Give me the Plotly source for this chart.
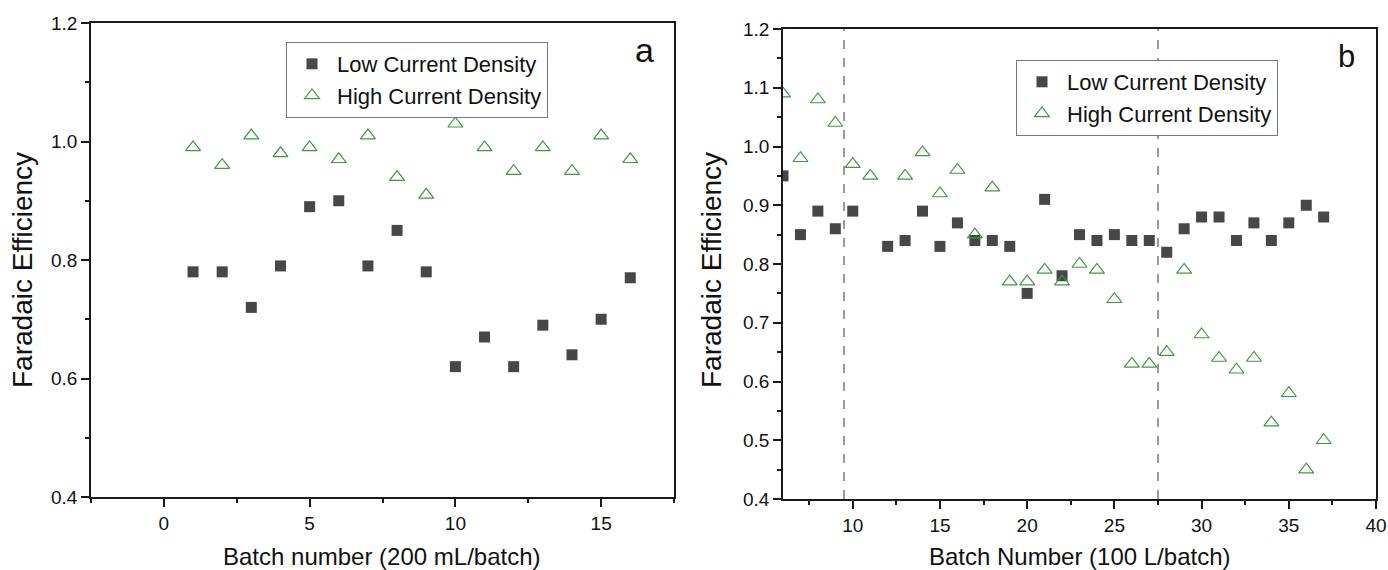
import plotly.graph_objects as go

# ---- Panel a data (200 mL/batch) ----
a_batch = list(range(1, 17))
a_low = [0.78, 0.78, 0.72, 0.79, 0.89, 0.90, 0.79, 0.85, 0.78, 0.62, 0.67, 0.62, 0.69, 0.64, 0.70, 0.77]
a_high = [0.99, 0.96, 1.01, 0.98, 0.99, 0.97, 1.01, 0.94, 0.91, 1.03, 0.99, 0.95, 0.99, 0.95, 1.01, 0.97]

# ---- Panel b data (100 L/batch) ----
b_low_batch = [6, 7, 8, 9, 10, 12, 13, 14, 15, 16, 17, 18, 19, 20, 21, 22, 23, 24, 25, 26, 27,
               28, 29, 30, 31, 32, 33, 34, 35, 36, 37]
b_low = [0.95, 0.85, 0.89, 0.86, 0.89, 0.83, 0.84, 0.89, 0.83, 0.87, 0.84, 0.84, 0.83, 0.75, 0.91,
         0.78, 0.85, 0.84, 0.85, 0.84, 0.84, 0.82, 0.86, 0.88, 0.88, 0.84, 0.87, 0.84, 0.87, 0.90, 0.88]
b_high_batch = [6, 7, 8, 9, 10, 11, 13, 14, 15, 16, 17, 18, 19, 20, 21, 22, 23, 24, 25, 26, 27,
                28, 29, 30, 31, 32, 33, 34, 35, 36, 37]
b_high = [1.09, 0.98, 1.08, 1.04, 0.97, 0.95, 0.95, 0.99, 0.92, 0.96, 0.85, 0.93, 0.77, 0.77, 0.79,
          0.77, 0.80, 0.79, 0.74, 0.63, 0.63, 0.65, 0.79, 0.68, 0.64, 0.62, 0.64, 0.53, 0.58, 0.45, 0.50]
b_dividers = [9.5, 27.5]

series_names = ["Low Current Density", "High Current Density"]

FONT = "Liberation Sans, Arial, sans-serif"
SQ_COLOR = "#474747"
TRI_COLOR = "#3d9a3d"
AX_COLOR = "#1a1a1a"
W, H = 1388, 570

fig = go.Figure()

def sq_trace(x, y, xa, ya, leg):
    return go.Scatter(x=x, y=y, mode="markers", name=series_names[0], xaxis=xa, yaxis=ya,
                      legend=leg,
                      marker=dict(symbol="square", size=11, color=SQ_COLOR, line=dict(width=0)))

def tri_trace(x, y, xa, ya, leg):
    return go.Scatter(x=x, y=y, mode="markers", name=series_names[1], xaxis=xa, yaxis=ya,
                      legend=leg,
                      marker=dict(symbol="triangle-up-open", size=13, color=TRI_COLOR,
                                  line=dict(width=1.2, color=TRI_COLOR)))

fig.add_trace(sq_trace(a_batch, a_low, "x", "y", "legend"))
fig.add_trace(tri_trace(a_batch, a_high, "x", "y", "legend"))
fig.add_trace(sq_trace(b_low_batch, b_low, "x2", "y2", "legend2"))
fig.add_trace(tri_trace(b_high_batch, b_high, "x2", "y2", "legend2"))

for xv in b_dividers:
    fig.add_shape(type="line", xref="x2", yref="y2 domain", x0=xv, x1=xv, y0=0, y1=1,
                  line=dict(color="#7a7a7a", width=1.5, dash="dash"))

axis_common = dict(showline=True, linecolor=AX_COLOR, linewidth=1.5, mirror=True,
                   ticks="outside", ticklen=8, tickwidth=1.5, tickcolor=AX_COLOR,
                   showgrid=False, zeroline=False, automargin=False,
                   tickfont=dict(family=FONT, size=19, color="#111"))

def px_x(p):
    return p / W

def px_y(p):
    return 1 - p / H

fig.update_layout(
    template="none",
    width=W, height=H,
    margin=dict(l=0, r=0, t=0, b=0, pad=0),
    paper_bgcolor="white", plot_bgcolor="white",
    font=dict(family=FONT, color="#111"),
    showlegend=True,
    xaxis=dict(domain=[px_x(91), px_x(674)], range=[-2.5, 17.5], tick0=0, dtick=5,
               minor=dict(ticks="outside", ticklen=4, tickwidth=1.5, tickcolor=AX_COLOR, dtick=2.5, tick0=0),
               anchor="y", **axis_common),
    yaxis=dict(domain=[px_y(497), px_y(23)], range=[0.4, 1.2], tick0=0.4, dtick=0.2, tickformat=".1f",
               minor=dict(ticks="outside", ticklen=4, tickwidth=1.5, tickcolor=AX_COLOR, dtick=0.1, tick0=0.4),
               anchor="x", **axis_common),
    xaxis2=dict(domain=[px_x(783), px_x(1376)], range=[6, 40], tick0=0, dtick=5,
                minor=dict(ticks="outside", ticklen=4, tickwidth=1.5, tickcolor=AX_COLOR, dtick=2.5, tick0=0),
                anchor="y2", **axis_common),
    yaxis2=dict(domain=[px_y(499), px_y(29)], range=[0.4, 1.2], tick0=0.4, dtick=0.1, tickformat=".1f",
                minor=dict(ticks="outside", ticklen=4, tickwidth=1.5, tickcolor=AX_COLOR, dtick=0.05, tick0=0.4),
                anchor="x2", **axis_common),
    legend=dict(x=px_x(286), y=px_y(42), xanchor="left", yanchor="top",
                bgcolor="white", bordercolor="#777", borderwidth=1,
                font=dict(family=FONT, size=22, color="#111"), tracegroupgap=0, itemwidth=40),
    legend2=dict(x=px_x(1016), y=px_y(60), xanchor="left", yanchor="top",
                 bgcolor="white", bordercolor="#777", borderwidth=1,
                 font=dict(family=FONT, size=22, color="#111"), tracegroupgap=0, itemwidth=40),
)

annotations = [
    dict(text="a", x=px_x(644), y=px_y(50), xref="paper", yref="paper", showarrow=False,
         xanchor="center", yanchor="middle", font=dict(family=FONT, size=34, color="#111")),
    dict(text="b", x=px_x(1346), y=px_y(57), xref="paper", yref="paper", showarrow=False,
         xanchor="center", yanchor="middle", font=dict(family=FONT, size=31, color="#111")),
    dict(text="Batch number (200 mL/batch)", x=px_x(382), y=px_y(556), xref="paper", yref="paper",
         showarrow=False, xanchor="center", yanchor="middle", font=dict(family=FONT, size=24, color="#111")),
    dict(text="Batch Number (100 L/batch)", x=px_x(1080), y=px_y(556), xref="paper", yref="paper",
         showarrow=False, xanchor="center", yanchor="middle", font=dict(family=FONT, size=24, color="#111")),
    dict(text="Faradaic Efficiency", x=px_x(23), y=px_y(270), xref="paper", yref="paper", textangle=-90,
         showarrow=False, xanchor="center", yanchor="middle", font=dict(family=FONT, size=28, color="#111")),
    dict(text="Faradaic Efficiency", x=px_x(712), y=px_y(270), xref="paper", yref="paper", textangle=-90,
         showarrow=False, xanchor="center", yanchor="middle", font=dict(family=FONT, size=28, color="#111")),
]
fig.update_layout(annotations=annotations)

# remove the browser's default 8px body margin so the figure fills the window exactly
fig.write_html("out.html",
               config={"displayModeBar": False},
               post_script="document.body.style.margin='0';document.body.style.overflow='hidden';")
